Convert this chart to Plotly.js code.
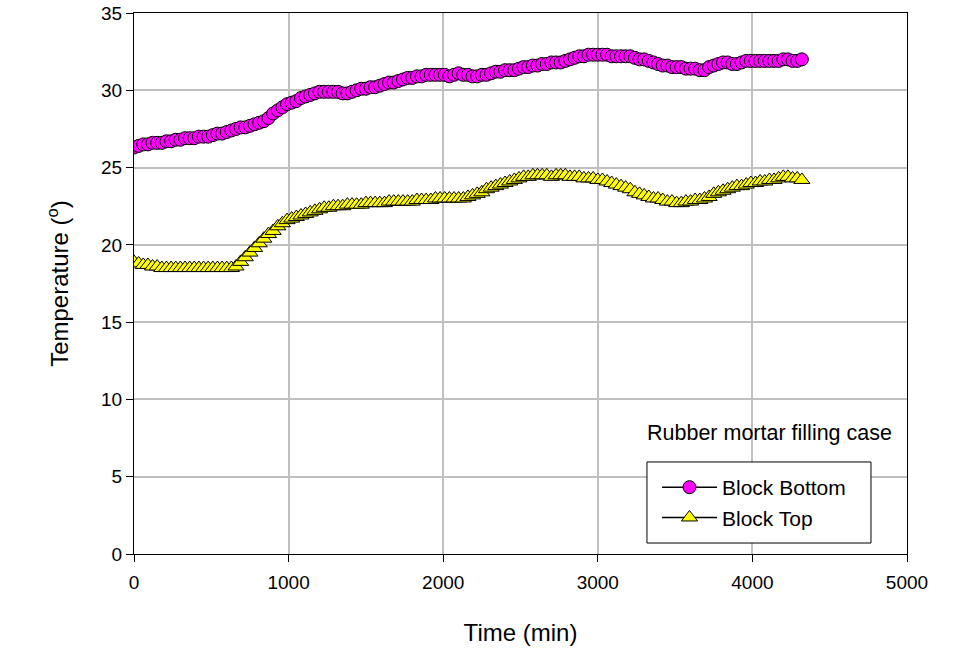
<!DOCTYPE html>
<html>
<head>
<meta charset="utf-8">
<script src="https://cdn.plot.ly/plotly-3.0.1.min.js"></script>
<style>html,body{margin:0;padding:0;background:#fff;}#chart{width:963px;height:657px;}</style>
</head>
<body>
<div id="chart"></div>
<script>
// Time (min), one reading every 30 min
const timeMin = [
  0,30,60,90,120,150,180,210,240,270,300,330,
  360,390,420,450,480,510,540,570,600,630,660,690,
  720,750,780,810,840,870,900,930,960,990,1020,1050,
  1080,1110,1140,1170,1200,1230,1260,1290,1320,1350,1380,1410,
  1440,1470,1500,1530,1560,1590,1620,1650,1680,1710,1740,1770,
  1800,1830,1860,1890,1920,1950,1980,2010,2040,2070,2100,2130,
  2160,2190,2220,2250,2280,2310,2340,2370,2400,2430,2460,2490,
  2520,2550,2580,2610,2640,2670,2700,2730,2760,2790,2820,2850,
  2880,2910,2940,2970,3000,3030,3060,3090,3120,3150,3180,3210,
  3240,3270,3300,3330,3360,3390,3420,3450,3480,3510,3540,3570,
  3600,3630,3660,3690,3720,3750,3780,3810,3840,3870,3900,3930,
  3960,3990,4020,4050,4080,4110,4140,4170,4200,4230,4260,4290,
  4320
];
const blockBottom = [
  26.3,26.4,26.5,26.5,26.6,26.6,26.6,26.7,26.7,26.8,26.8,26.9,
  26.9,26.9,27.0,27.0,27.0,27.1,27.2,27.2,27.3,27.4,27.5,27.6,
  27.6,27.7,27.8,27.9,28.0,28.2,28.5,28.7,28.9,29.1,29.2,29.3,
  29.5,29.6,29.7,29.8,29.9,29.9,29.9,29.9,29.9,29.8,29.8,29.9,
  30.0,30.1,30.1,30.2,30.2,30.3,30.4,30.5,30.5,30.6,30.7,30.8,
  30.8,30.9,30.9,31.0,31.0,31.0,31.0,31.0,30.9,31.0,31.1,31.0,
  31.0,30.9,30.9,31.0,31.0,31.1,31.2,31.2,31.3,31.3,31.3,31.4,
  31.5,31.5,31.6,31.6,31.7,31.7,31.8,31.8,31.8,31.9,32.0,32.1,
  32.2,32.2,32.3,32.3,32.3,32.3,32.3,32.2,32.2,32.2,32.2,32.2,
  32.1,32.0,32.0,31.9,31.8,31.7,31.6,31.6,31.5,31.5,31.5,31.4,
  31.4,31.4,31.3,31.3,31.5,31.6,31.7,31.8,31.8,31.7,31.7,31.8,
  31.9,31.9,31.9,31.9,31.9,31.9,31.9,31.9,32.0,32.0,31.9,31.9,
  32.0
];
const blockTop = [
  18.9,18.8,18.7,18.7,18.6,18.6,18.5,18.5,18.5,18.5,18.5,18.5,
  18.5,18.5,18.5,18.5,18.5,18.5,18.5,18.5,18.5,18.5,18.6,18.9,
  19.2,19.5,19.8,20.1,20.4,20.7,20.9,21.2,21.4,21.6,21.7,21.8,
  21.9,22.0,22.1,22.2,22.3,22.4,22.4,22.5,22.5,22.5,22.6,22.6,
  22.6,22.6,22.7,22.7,22.7,22.7,22.7,22.8,22.8,22.8,22.8,22.8,
  22.8,22.9,22.9,22.9,22.9,23.0,23.0,23.0,23.0,23.0,23.0,23.0,
  23.1,23.2,23.3,23.4,23.6,23.7,23.8,23.9,24.0,24.1,24.2,24.3,
  24.4,24.4,24.5,24.5,24.5,24.5,24.4,24.5,24.5,24.5,24.4,24.4,
  24.4,24.3,24.3,24.3,24.2,24.2,24.1,24.0,23.9,23.8,23.7,23.6,
  23.4,23.3,23.2,23.1,23.0,23.0,22.9,22.8,22.8,22.7,22.7,22.8,
  22.8,22.9,22.9,23.0,23.1,23.3,23.4,23.5,23.6,23.7,23.8,23.8,
  23.9,24.0,24.0,24.1,24.1,24.2,24.2,24.3,24.4,24.4,24.3,24.3,
  24.2
];
const seriesNames = ["Block Bottom", "Block Top"];
const xTicks = [0, 1000, 2000, 3000, 4000, 5000];
const yTicks = [0, 5, 10, 15, 20, 25, 30, 35];
const noteText = "Rubber mortar filling case";

const FONT = "Liberation Sans, Arial, sans-serif";

const traces = [
  {
    x: timeMin, y: blockBottom, name: seriesNames[0],
    type: "scatter", mode: "lines+markers",
    line: {color: "#000000", width: 1.5},
    marker: {symbol: "circle", size: 13, color: "#ff00ff", line: {color: "#000000", width: 1}}
  },
  {
    x: timeMin, y: blockTop, name: seriesNames[1],
    type: "scatter", mode: "lines+markers",
    line: {color: "#000000", width: 1.5},
    marker: {symbol: "triangle-up", size: 14, color: "#ffff00", line: {color: "#000000", width: 1}}
  }
];

const layout = {
  width: 963, height: 657,
  margin: {l: 134, r: 56, t: 13, b: 103},
  paper_bgcolor: "#ffffff", plot_bgcolor: "#ffffff",
  font: {family: FONT, color: "#000000", size: 19},
  showlegend: true,
  xaxis: {
    range: [0, 5000], tickvals: xTicks, ticktext: xTicks.map(String),
    showgrid: true, gridcolor: "#c0c0c0", gridwidth: 2,
    zeroline: false, showline: true, linecolor: "#000000", linewidth: 1, mirror: true,
    ticks: "outside", ticklen: 7, tickcolor: "#000000", tickwidth: 1,
    ticklabelstandoff: 4,
    tickfont: {family: FONT, size: 19, color: "#000000"},
    title: {text: "Time (min)", font: {family: FONT, size: 24, color: "#000000"}, standoff: 32}
  },
  yaxis: {
    range: [0, 35], tickvals: yTicks, ticktext: yTicks.map(String),
    showgrid: true, gridcolor: "#c0c0c0", gridwidth: 2,
    zeroline: false, showline: true, linecolor: "#000000", linewidth: 1, mirror: true,
    ticks: "outside", ticklen: 7, tickcolor: "#000000", tickwidth: 1,
    tickfont: {family: FONT, size: 19, color: "#000000"},
    title: {text: "Temperature (<sup>o</sup>)", font: {family: FONT, size: 24, color: "#000000"}, standoff: 25}
  },
  legend: {
    x: 0.6766, y: 0.1608, xanchor: "left", yanchor: "top",
    bgcolor: "rgba(0,0,0,0)", borderwidth: 0,
    font: {family: FONT, size: 21, color: "#000000"},
    itemwidth: 55, tracegroupgap: 0
  },
  shapes: [{
    type: "rect", xref: "paper", yref: "paper", layer: "above",
    x0: 0.6636, x1: 0.9534, y0: 0.0203, y1: 0.1701,
    fillcolor: "#ffffff", line: {color: "#000000", width: 1}
  }],
  annotations: [{
    text: noteText, xref: "paper", yref: "paper",
    x: 0.822, y: 0.223, xanchor: "center", yanchor: "middle",
    showarrow: false, font: {family: FONT, size: 21.5, color: "#000000"}
  }]
};

Plotly.newPlot("chart", traces, layout, {displayModeBar: false, staticPlot: true});
</script>
</body>
</html>
